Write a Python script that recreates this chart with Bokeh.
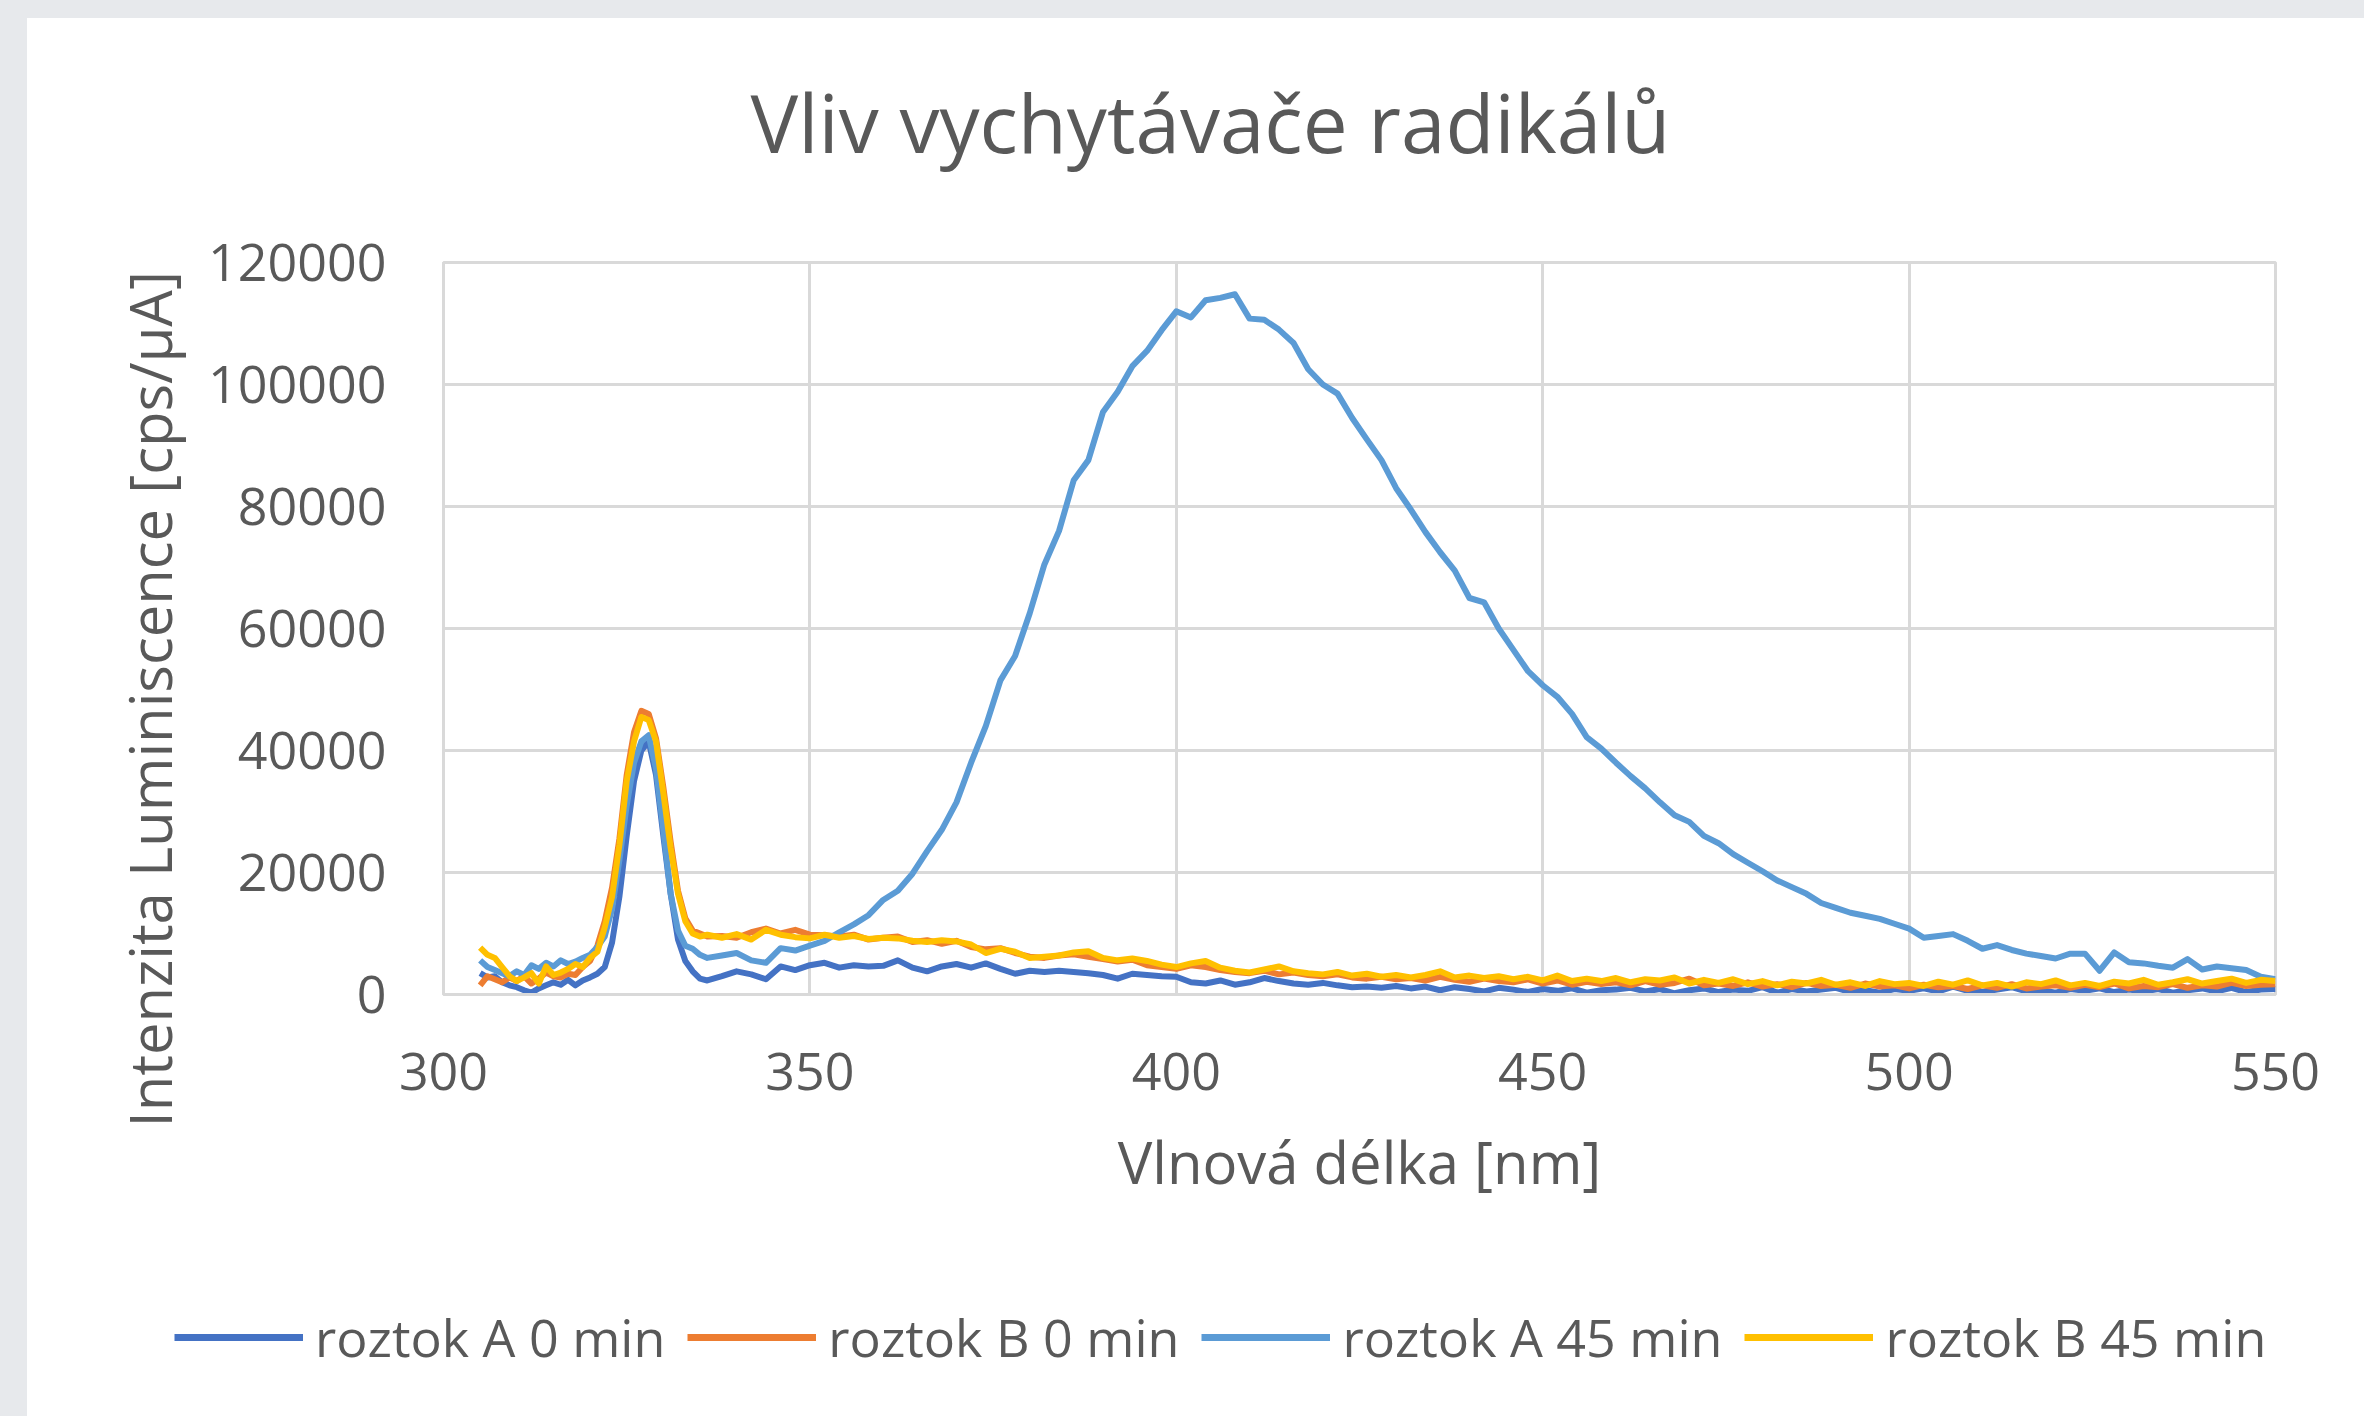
from bokeh.plotting import figure
from bokeh.models import (Range1d, FixedTicker, BasicTickFormatter, Legend, LegendItem, Title, Label)
from bokeh.layouts import column
from bokeh.embed import file_html
from bokeh.resources import INLINE

# ---------------- data ----------------
wavelength = list(range(305, 337)) + list(range(338, 551, 2))

a0_peak = [3500, 2800, 3000, 2000, 1500, 1200, 700, 300, 1000, 1500,
           2000, 1600, 2400, 1500, 2300, 2800, 3400, 4500, 8500, 16000,
           26000, 35000, 40000, 41500, 36000, 26000, 16500, 9000, 5500, 3800,
           2600, 2300]
a0_tail = [3000, 3800, 3300, 2500, 4600, 4000, 4800, 5200, 4400, 4800,
           4600, 4700, 5600, 4400, 3800, 4600, 5000, 4400, 5100, 4200,
           3400, 3900, 3700, 3900, 3700, 3500, 3200, 2600, 3400, 3200,
           3000, 2900, 2000, 1800, 2300, 1600, 2000, 2700, 2200, 1800,
           1600, 1900, 1500, 1200, 1300, 1100, 1400, 1000, 1300, 700,
           1200, 900, 500, 1100, 800, 400, 900, 600, 1000, 300,
           700, 800, 1100, 500, 900, 200, 700, 1000, 400, 800,
           600, 1200, 300, 900, 500, 800, 1100, 400, 700, 300,
           900, 600, 1000, 500, 1300, 600, 400, 800, 1200, 500,
           700, 300, 900, 600, 1000, 400, 800, 500, 900, 300,
           700, 1000, 500, 1100, 400, 800, 900]

b0_peak = [1500, 3000, 2500, 2000, 2800, 2200, 3000, 1800, 2600, 3600,
           3000, 2800, 3400, 3200, 4500, 5500, 8000, 12000, 17500, 25500,
           36000, 43000, 46500, 46000, 42000, 34000, 25000, 17000, 12500, 10500,
           10000, 9500]
b0_tail = [9600, 9300, 10200, 10800, 10000, 10600, 9800, 9700, 9500, 9800,
           9000, 9300, 9500, 8600, 8900, 8300, 8800, 7800, 7400, 7600,
           6800, 6200, 6000, 6400, 6600, 6200, 5800, 5400, 5700, 4800,
           4500, 4200, 4800, 4500, 4000, 3700, 3500, 3900, 3300, 3600,
           3200, 3000, 3300, 2800, 2600, 2900, 2500, 2700, 2300, 2900,
           2400, 2100, 2600, 2200, 2000, 2500, 1800, 2300, 1600, 2100,
           1700, 2000, 1500, 2200, 1600, 1900, 2600, 1500, 1800, 1400,
           2000, 1300, 1700, 1200, 1900, 1400, 1600, 1100, 1800, 1300,
           1500, 1000, 1600, 1200, 1400, 900, 1500, 1100, 1700, 1000,
           1300, 1500, 1100, 1600, 1200, 1800, 1000, 1400, 1200, 1700,
           1100, 1500, 1300, 1900, 1400, 1600, 1700]

a45_peak = [5600, 4500, 4000, 3500, 3000, 3800, 3200, 4800, 4200, 5200,
            4600, 5600, 5000, 5400, 6000, 6500, 7800, 9500, 14000, 22000,
            31000, 38000, 41500, 42500, 37000, 27000, 16500, 10500, 8000, 7500,
            6500, 6000]
a45_tail = [6400, 6800, 5600, 5200, 7600, 7200, 8000, 8800, 10200, 11500,
            13000, 15500, 17000, 19800, 23500, 27000, 31500, 38000, 44000, 51500,
            55500, 62500, 70500, 76000, 84300, 87600, 95500, 98800, 103000, 105500,
            108900, 112000, 111000, 113800, 114200, 114800, 110800, 110600, 109000, 106800,
            102500, 100000, 98500, 94500, 91000, 87600, 83000, 79500, 75800, 72500,
            69500, 65000, 64300, 60000, 56500, 53000, 50700, 48800, 46000, 42200,
            40300, 38000, 35800, 33800, 31500, 29400, 28300, 26000, 24800, 23000,
            21600, 20200, 18700, 17600, 16500, 15000, 14200, 13400, 12900, 12400,
            11600, 10800, 9300, 9600, 9900, 8800, 7500, 8100, 7300, 6700,
            6300, 5900, 6700, 6700, 3900, 6900, 5300, 5100, 4700, 4400,
            5800, 4100, 4600, 4300, 4000, 2900, 2500]

b45_peak = [7700, 6500, 6000, 4500, 3000, 2200, 2800, 3500, 1800, 4600,
            3200, 3600, 4200, 5000, 4500, 6000, 7000, 11000, 16000, 24500,
            35000, 41500, 45500, 45000, 41500, 33000, 24000, 16500, 12000, 10000,
            9500, 9800]
b45_tail = [9300, 9900, 9000, 10600, 9800, 9400, 9200, 9800, 9300, 9600,
            9100, 9300, 9200, 8800, 8600, 8900, 8700, 8200, 6800, 7500,
            7000, 6000, 6200, 6400, 6900, 7100, 6000, 5600, 5900, 5500,
            4900, 4500, 5100, 5500, 4400, 3900, 3600, 4100, 4600, 3800,
            3500, 3300, 3700, 3100, 3400, 2900, 3200, 2800, 3200, 3800,
            2800, 3100, 2700, 3000, 2500, 2900, 2300, 3100, 2200, 2600,
            2200, 2700, 2000, 2500, 2300, 2800, 1800, 2400, 1900, 2500,
            1700, 2200, 1500, 2100, 1800, 2400, 1600, 2000, 1400, 2200,
            1700, 1900, 1400, 2100, 1600, 2300, 1500, 1900, 1300, 2000,
            1700, 2300, 1500, 1900, 1400, 2100, 1800, 2400, 1600, 2000,
            2500, 1800, 2200, 2600, 1900, 2400, 2200]

series_names = ["roztok A 0 min", "roztok B 0 min", "roztok A 45 min", "roztok B 45 min"]
series_values = [a0_peak + a0_tail, b0_peak + b0_tail, a45_peak + a45_tail, b45_peak + b45_tail]
series_colors = ["#4472C4", "#ED7D31", "#5B9BD5", "#FFC000"]

x_ticks = [300, 350, 400, 450, 500, 550]
y_ticks = [0, 20000, 40000, 60000, 80000, 100000, 120000]

title_text = "Vliv vychytávače radikálů"
x_title = "Vlnová délka [nm]"
y_title = "Intenzita Luminiscence [cps/µA]"

# ---------------- sizes ----------------
FONT = "Open Sans"
TXT = "#595959"
GRID = "#D9D9D9"
W = 2337
H_TOP = 190
H_MAIN = 1040
H_LEG = 168


def strip(height):
    f = figure(width=W, height=height, output_backend="svg", toolbar_location=None,
               x_range=Range1d(0, 1), y_range=Range1d(0, 1),
               x_axis_type=None, y_axis_type=None, title=None,
               min_border=0, min_border_left=0, min_border_right=0,
               min_border_top=0, min_border_bottom=0)
    f.frame_align = False
    f.background_fill_color = "white"
    f.border_fill_color = "white"
    f.outline_line_color = None
    f.grid.visible = False
    return f


# ---------------- title strip ----------------
t = strip(H_TOP)
t.add_layout(Label(x=1183, y=87, x_units="screen", y_units="screen", text=title_text,
                   text_font=FONT, text_font_size="80px", text_color=TXT,
                   text_align="center", text_baseline="alphabetic"))

# ---------------- main figure ----------------
p = figure(width=W, height=H_MAIN, output_backend="svg", toolbar_location=None, title=None,
           x_range=Range1d(300, 550), y_range=Range1d(0, 120000),
           min_border_left=416, min_border_right=89, min_border_top=244 - H_TOP,
           min_border_bottom=H_TOP + H_MAIN - 976)
p.frame_align = False
p.background_fill_color = "white"
p.border_fill_color = "white"
p.outline_line_color = GRID
p.outline_line_width = 3

for ax in (p.xaxis[0], p.yaxis[0]):
    ax.major_tick_line_color = None
    ax.minor_tick_line_color = None
    ax.axis_line_color = GRID
    ax.axis_line_width = 3
    ax.major_label_text_font = FONT
    ax.major_label_text_font_size = "52px"
    ax.major_label_text_color = TXT
    ax.axis_label_text_font = FONT
    ax.axis_label_text_font_size = "58px"
    ax.axis_label_text_color = TXT
    ax.axis_label_text_font_style = "normal"

p.xaxis.ticker = FixedTicker(ticks=x_ticks)
p.yaxis.ticker = FixedTicker(ticks=y_ticks)
p.yaxis.formatter = BasicTickFormatter(use_scientific=False)
p.xaxis.major_label_standoff = 52
p.yaxis.major_label_standoff = 51
p.xaxis.axis_label = x_title
p.xaxis.axis_label_standoff = 29

ytitle = Title(text=y_title, align="left", offset=-133, standoff=34,
               text_font=FONT, text_font_size="58px", text_font_style="normal",
               text_color=TXT)
p.add_layout(ytitle, "left")

p.xgrid.ticker = FixedTicker(ticks=x_ticks)
p.ygrid.ticker = FixedTicker(ticks=y_ticks)
for g in (p.xgrid[0], p.ygrid[0]):
    g.grid_line_color = GRID
    g.grid_line_width = 3

for name, vals, col in zip(series_names, series_values, series_colors):
    p.line(x=wavelength, y=vals, line_color=col, line_width=6, line_join="round")

# ---------------- legend strip ----------------
q = strip(H_LEG)
keys = []
for name, vals, col in zip(series_names, series_values, series_colors):
    # same series; the strip's ranges keep the curve itself out of view
    r = q.line(x=wavelength, y=vals, line_color=col, line_width=7)
    keys.append(LegendItem(label=name, renderers=[r]))

legend = Legend(items=keys, orientation="horizontal", location=(147, 44))
legend.label_text_font = FONT
legend.label_text_font_size = "52px"
legend.label_text_color = TXT
legend.glyph_width = 129
legend.glyph_height = 52
legend.label_standoff = 12
legend.spacing = 22
legend.padding = 0
legend.margin = 0
legend.border_line_alpha = 0
legend.background_fill_alpha = 0
q.add_layout(legend, "center")

card = column(t, p, q, spacing=0, styles={"background-color": "white"})
page = column(card, spacing=0,
              styles={"background-color": "#E7E9EC", "padding": "18px 0px 0px 27px"})

open("out.html", "w").write(file_html(page, INLINE))
